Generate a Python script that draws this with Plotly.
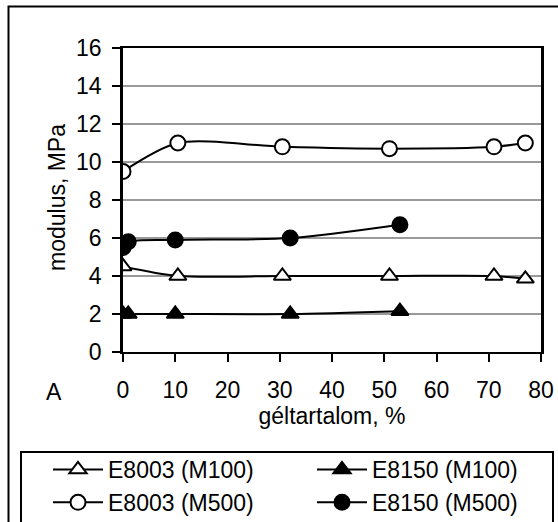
import plotly.graph_objects as go

# ---- data ----
x_e8003_m100 = [0, 10.5, 30.5, 51, 71, 77]
y_e8003_m100 = [4.5, 4.0, 4.0, 4.0, 4.0, 3.85]
x_e8150_m100 = [0, 1, 10, 32, 53]
y_e8150_m100 = [2.0, 2.0, 2.0, 2.0, 2.15]
x_e8003_m500 = [0, 10.5, 30.5, 51, 71, 77]
y_e8003_m500 = [9.5, 11.0, 10.8, 10.7, 10.8, 11.0]
x_e8150_m500 = [0, 1, 10, 32, 53]
y_e8150_m500 = [5.5, 5.8, 5.9, 6.0, 6.7]

names = ["E8003 (M100)", "E8150 (M100)", "E8003 (M500)", "E8150 (M500)"]
x_ticks = [0, 10, 20, 30, 40, 50, 60, 70, 80]
y_ticks = [0, 2, 4, 6, 8, 10, 12, 14, 16]

FONT = "Liberation Sans, Arial, sans-serif"
FS = 23

fig = go.Figure()
series = [
    (x_e8003_m100, y_e8003_m100, names[0], "triangle-up", "white"),
    (x_e8150_m100, y_e8150_m100, names[1], "triangle-up", "black"),
    (x_e8003_m500, y_e8003_m500, names[2], "circle", "white"),
    (x_e8150_m500, y_e8150_m500, names[3], "circle", "black"),
]
for xs, ys, nm, sym, fill in series:
    fig.add_trace(go.Scatter(
        x=xs, y=ys, name=nm, mode="lines+markers",
        line=dict(color="black", width=2, shape="spline", smoothing=0.8),
        marker=dict(symbol=sym, size=15, color=fill, line=dict(color="black", width=2)),
    ))

# page body margin is removed in the page (post_script), so no offset
W, H = 558, 522
L, R, T, B = 123, 541, 48, 352
def px(x):
    return (x - L) / (R - L)
def py(y):
    return (B - y) / (B - T)

fig.update_layout(
    width=W, height=H,
    margin=dict(l=L, r=W - R, t=T, b=H - B, pad=0, autoexpand=False),
    paper_bgcolor="white", plot_bgcolor="white",
    font=dict(family=FONT, size=FS, color="black"),
    showlegend=True,
    legend=dict(
        orientation="h", x=px(48), y=py(448), xanchor="left", yanchor="top",
        borderwidth=0, bgcolor="rgba(0,0,0,0)",
        entrywidth=199, entrywidthmode="pixels", itemwidth=50,
        font=dict(family=FONT, size=FS, color="black"),
        traceorder="normal", tracegroupgap=0,
    ),
    xaxis=dict(
        range=[0, 80], tickvals=x_ticks, ticktext=[str(v) for v in x_ticks],
        showgrid=False, zeroline=False,
        showline=True, linecolor="black", linewidth=2, mirror=True,
        ticks="outside", ticklen=8, tickwidth=2, tickcolor="black",
        ticklabelstandoff=8,
        title=dict(text="géltartalom, %", font=dict(family=FONT, size=FS), standoff=4),
    ),
    yaxis=dict(
        range=[0, 16], tickvals=y_ticks, ticktext=[str(v) for v in y_ticks],
        showgrid=True, gridcolor="#999999", gridwidth=2, zeroline=False,
        showline=True, linecolor="black", linewidth=2.5, mirror=True,
        ticks="outside", ticklen=8, tickwidth=2, tickcolor="black",
        ticklabelstandoff=6,
    ),
    annotations=[
        dict(text="A", xref="paper", yref="paper", x=px(54), y=py(392),
             xanchor="center", yanchor="middle", showarrow=False,
             font=dict(family=FONT, size=FS, color="black")),
        dict(text="modulus, MPa", xref="paper", yref="paper", x=px(57), y=py(198),
             xanchor="center", yanchor="middle", showarrow=False, textangle=-90,
             font=dict(family=FONT, size=FS, color="black")),
    ],
    shapes=[
        dict(type="rect", xref="paper", yref="paper",
             x0=px(8.5), x1=px(570), y0=py(540), y1=py(6.5),
             line=dict(color="black", width=2), fillcolor="rgba(0,0,0,0)", layer="below"),
        dict(type="rect", xref="paper", yref="paper",
             x0=px(21), x1=px(553), y0=py(540), y1=py(452),
             line=dict(color="black", width=2), fillcolor="white", layer="below"),
    ],
)

fig.write_html(
    "out.html",
    config={"displayModeBar": False},
    post_script="document.body.style.margin='0';document.body.style.overflow='hidden';",
)
